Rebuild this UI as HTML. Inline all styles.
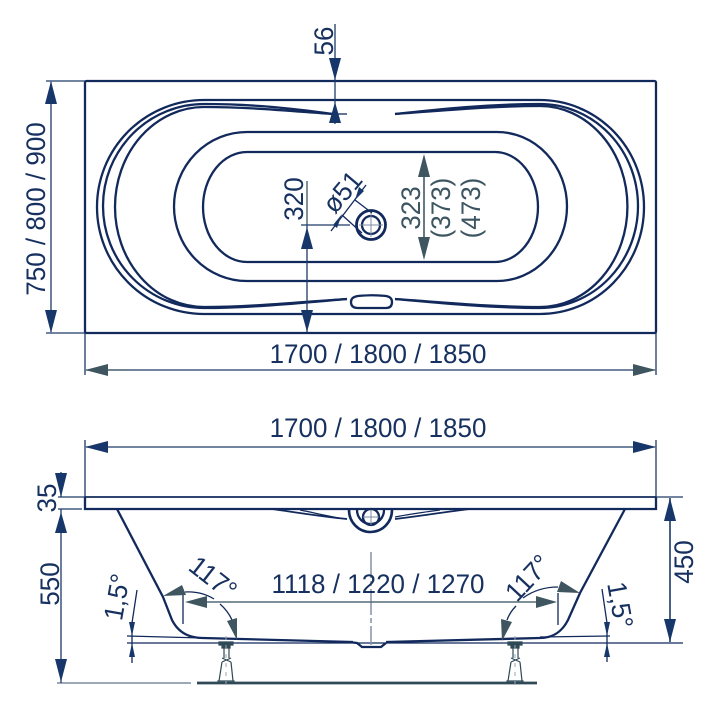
<!DOCTYPE html>
<html><head><meta charset="utf-8"><style>
html,body{margin:0;padding:0;background:#fff;width:720px;height:711px;overflow:hidden}
svg{display:block}
text{font-family:"Liberation Sans",sans-serif;font-size:27px;fill:#16305f}
.g{fill:#3c5560}
.m{fill:none;stroke:#12295c;stroke-width:2.3}
.t{fill:none;stroke:#12295c;stroke-width:1.3}
.d{fill:none;stroke:#1d3a68;stroke-width:1.3}
.y{fill:none;stroke:#566c78;stroke-width:1.5}
.a{fill:#17376a}
.b{fill:#3f5660}
</style></head><body>
<svg width="720" height="711" viewBox="0 0 720 711" xmlns="http://www.w3.org/2000/svg">
<!-- top view -->
<rect x="85" y="81" width="571" height="252" rx="1.5" class="m"/>
<path class="m" d="M204,100H540A104,107 0 0 1 540,314H204A107,107 0 0 1 204,100Z"/>
<path class="m" d="M333,114C290,108 250,104 204,104A101,102 0 0 0 204,308C250,308 300,303 347,299"/>
<path class="m" d="M333,114C290,111 250,107 204,107A89,100 0 0 0 204,307C250,307 300,302 347,299"/>
<path class="m" d="M395,114C440,109 490,104 540,104A98,102 0 0 1 540,308C490,308 440,303 395,299"/>
<path class="m" d="M395,114C440,111 490,106 540,106A87,100 0 0 1 540,307C490,307 440,302 395,299"/>
<path class="t" d="M333,114H347"/>
<path class="m" d="M247,132H497A70,74.5 0 0 1 497,281H247A73,74.5 0 0 1 247,132Z"/>
<path class="m" d="M247,152H495A43,55 0 0 1 495,262H247A44,55 0 0 1 247,152Z"/>
<path class="m" d="M358,296C370,295 374,295 386,296Q392,297 392,302Q392,308 386,308H358Q351,308 351,302Q351,297 358,296Z"/>
<circle cx="371" cy="225" r="14.5" class="m" style="stroke-width:2.8"/>
<circle cx="371" cy="225" r="9" class="m"/>
<path d="M371,213V237M359,225H383" stroke="#7e8fa3" stroke-width="1" fill="none"/>
<!-- dims top -->
<path class="d" d="M46,81H85M46,333H85M51,82V332"/>
<path class="a" d="M51,81l-6,23h12zM51,333l-6,-23h12z"/>
<text transform="translate(45,209) rotate(-90) scale(.963,1)" text-anchor="middle">750 / 800 / 900</text>
<path class="d" d="M335,24V124"/>
<path class="a" d="M335,80l-6,-22h12zM335,102l-6,21h12z"/>
<text transform="translate(333,41) rotate(-90) scale(.963,1)" text-anchor="middle">56</text>
<path class="y" d="M307,181V226"/><path class="d" d="M307,226V332M301,225H350"/>
<path class="a" d="M307,227l-6,22h12zM307,332l-6,-22h12z"/>
<text transform="translate(303,199) rotate(-90) scale(.963,1)" text-anchor="middle">320</text>
<path class="t" d="M331,231L366,185M342,215L362,233M355,200L372,213"/>
<path class="a" d="M342,214L333,225L337,228ZM355,200L359,187L364,191Z"/>
<text transform="translate(335,215) rotate(-50) scale(.963,1)">ø51</text>
<path class="y" d="M424,160V255" style="stroke-width:1.8"/>
<path class="b" d="M424,154l-6,23h12zM424,260l-6,-23h12z"/>
<text class="g" transform="translate(420,208) rotate(-90) scale(.963,1)" text-anchor="middle">323</text>
<text class="g" transform="translate(450,208) rotate(-90) scale(.963,1)" text-anchor="middle">(373)</text>
<text class="g" transform="translate(480,208) rotate(-90) scale(.963,1)" text-anchor="middle">(473)</text>
<path class="d" d="M85,333V375M656,333V375M86,370H655"/>
<path class="y" d="M100,370H130"/>
<path class="b" d="M85,370l23,-6v12zM656,370l-23,-6v12z"/>
<text transform="translate(378,363) scale(.963,1)" text-anchor="middle">1700 / 1800 / 1850</text>
<!-- side view -->
<path class="d" d="M85,440V497M656,440V497M86,447H655"/>
<path class="a" d="M85,447l23,-6v12zM656,447l-23,-6v12z"/>
<text transform="translate(378,437) scale(.963,1)" text-anchor="middle">1700 / 1800 / 1850</text>
<path d="M85,497H656" stroke="#12295c" stroke-width="1.8" fill="none"/>
<path class="m" d="M85,497V509H656V497"/>
<path class="m" d="M117,509L163,597L172,620C178,632 188,638 203,638L353,642"/>
<path class="m" d="M625,509L580,593L568,620C562,632 552,638 540,638L386,642"/>
<path class="m" d="M353,642.500L357,643L362,647H381L386,643"/>
<path class="t" d="M127,636L203,638M540,637L610,636M127,643H683"/>
<path class="m" d="M272,509C300,513 325,517 347,519" style="stroke-width:1.8"/>
<path class="m" d="M300,510C320,514 335,518 347,519" style="stroke-width:1.3"/>
<path class="m" d="M395,519C420,516 445,512 470,509" style="stroke-width:1.8"/>
<path class="m" d="M395,517C410,514 425,512 440,510" style="stroke-width:1.3"/>
<path class="m" d="M349,510A21.500,22 0 0 0 392,510" style="stroke-width:2.6"/>
<path class="m" d="M357,510A13.500,14 0 0 0 384,510"/>
<circle cx="371" cy="517" r="8" class="m"/>
<path d="M371,510V525M363,517H379" stroke="#7e8fa3" stroke-width="1" fill="none"/>
<path d="M371,552V645" stroke="#8494aa" stroke-width="1.5" stroke-dasharray="26 3 5 3" fill="none"/>
<!-- floor -->
<path d="M57,683H191" stroke="#7d8ca0" stroke-width="1.6" fill="none"/>
<path d="M197,683H537" stroke="#2f4a56" stroke-width="2.8" fill="none"/>
<!-- pedestals -->
<g id="p1" fill="none" stroke="#2f4a56" stroke-width="1.2">
<path d="M219,642H233V645H219Z" fill="#2f4a56"/><path d="M222,645H230V648H222Z" fill="#2f4a56"/>
<path d="M224,648V658M229,648V658M222,658L231,662M231,658L222,662M222,662L219,681M231,662L233,681M218,681H234V683H218Z"/>
<path d="M226,636V690" stroke="#9aa6b2" stroke-width="1" stroke-dasharray="4 5"/>
</g>
<use href="#p1" x="289"/>
<!-- 35, 550, 450 -->
<path class="d" d="M58,497H85M58,509H82M61,472V497M61,509V683"/>
<path class="a" d="M61,497l-6,-24h12zM61,512l-6,21h12zM61,682l-6,-23h12z"/>
<text transform="translate(56,498) rotate(-90) scale(.963,1)" text-anchor="middle">35</text>
<text transform="translate(59,584) rotate(-90) scale(.963,1)" text-anchor="middle">550</text>
<path class="d" d="M656,497H683"/><path class="d" d="M670,498V642" style="stroke-width:1.6"/>
<path class="a" d="M670,498l-6,23h12zM670,642l-6,-23h12z"/>
<text transform="translate(693,562) rotate(-90) scale(.963,1)" text-anchor="middle">450</text>
<!-- 1118 -->
<path class="y" d="M200,602H540"/>
<path class="b" d="M185,602l22,-6v12zM557,602l-21,-6v12z"/>
<path class="t" d="M183,593V624M558,593V625"/>
<text transform="translate(378,593) scale(.963,1)" text-anchor="middle">1118 / 1220 / 1270</text>
<!-- 117 -->
<path class="t" d="M185,592Q201,591 214,599M220,604Q228,611 232,620M523,598Q538,587 558,587M516,606Q510,612 507,620"/>
<path class="b" d="M163,596L182,585L186,595ZM237,640L227,621L237,618ZM580,593L561,581L557,592ZM502,641L501,619L512,622Z"/>
<text transform="translate(213,578) rotate(38) scale(.963,1)" text-anchor="middle" dy="9">117°</text>
<text transform="translate(528,578) rotate(-47) scale(.963,1)" text-anchor="middle" dy="9">117°</text>
<!-- 1.5 -->
<path class="t" d="M137,590L132,623V663M602,589L607,623V662"/>
<path class="a" d="M132,636l-3,-14h6zM132,643l-3,14h6zM607,636l-3,-14h6zM607,643l-3,14h6z"/>
<text transform="translate(117,597) rotate(-80) scale(.963,1)" text-anchor="middle" dy="9">1,5°</text>
<text transform="translate(620,605) rotate(80) scale(.963,1)" text-anchor="middle" dy="9">1,5°</text>
</svg>
</body></html>
